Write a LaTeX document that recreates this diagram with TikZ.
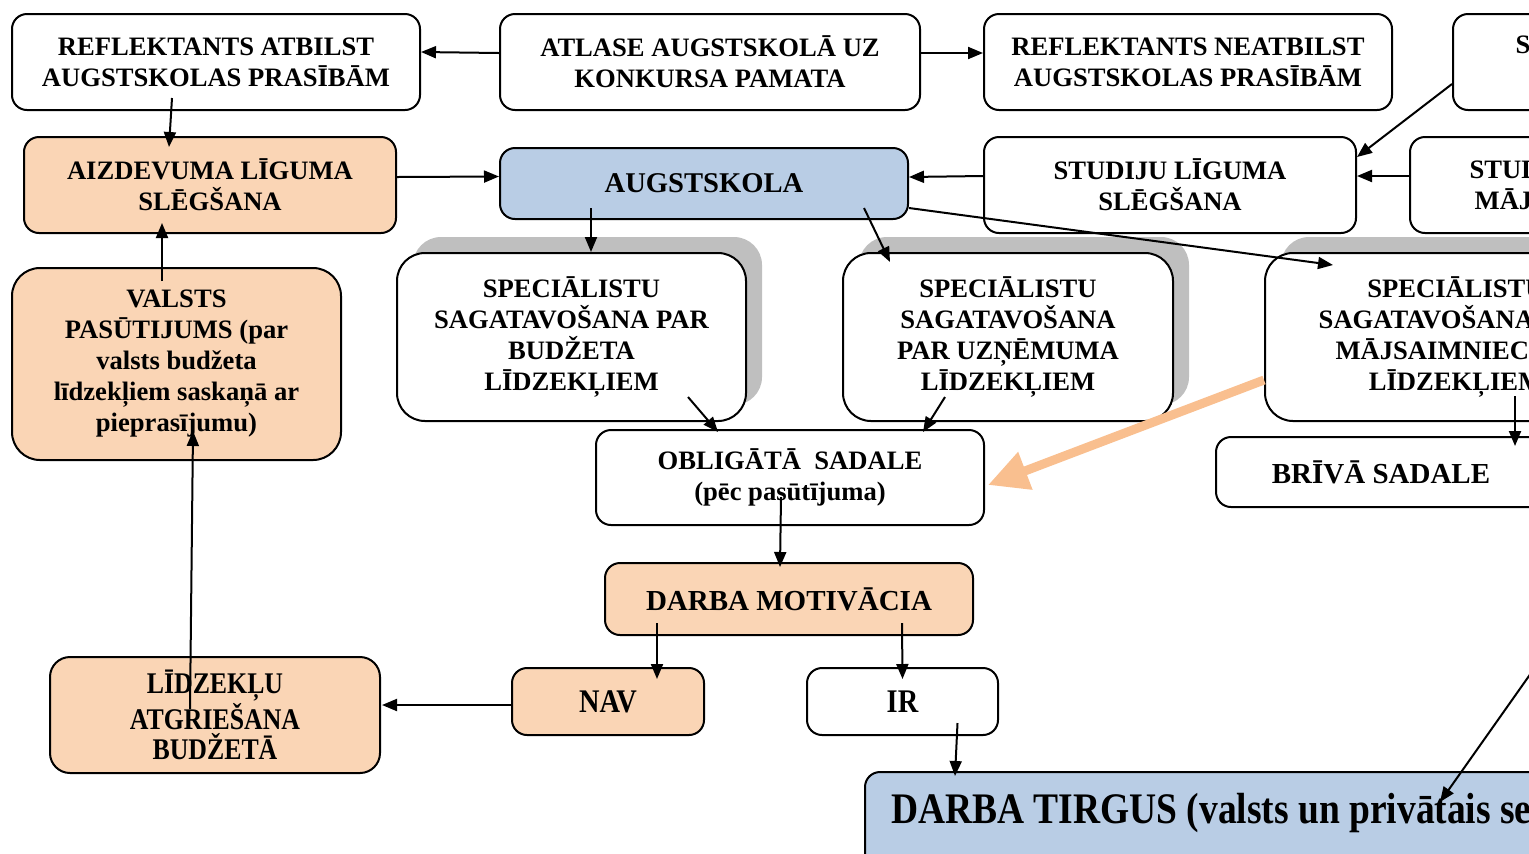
\documentclass[tikz,border=0pt]{standalone}
\usepackage{fontspec}
\setmainfont{Liberation Serif}
\newfontfamily\narrowserif{Liberation Serif}[FakeStretch=0.86]
\usetikzlibrary{calc}
\usetikzlibrary{arrows.meta}
\usetikzlibrary{shadows}
\definecolor{peach}{RGB}{250,213,181}
\definecolor{paleblue}{RGB}{185,205,229}
\definecolor{shadowgray}{RGB}{191,191,191}
\definecolor{arrorange}{RGB}{249,191,143}
\tikzset{
 box/.style={draw, line width=1pt, rounded corners=7.5pt, align=center, inner sep=0pt,
   font=\bfseries\fontsize{13.3}{15.5}\selectfont},
 orangebox/.style={box, fill=peach},
 bluebox/.style={box, fill=paleblue},
 specbox/.style={box, rounded corners=14pt, fill=white,
   general shadow={fill=shadowgray, shadow xshift=8pt, shadow yshift=8pt}},
 narrowtext/.style={font=\narrowserif\bfseries\fontsize{#1}{#1}\selectfont},
 link/.style={line width=1pt, -{Triangle[length=7.5pt,width=6pt]}},
}
\begin{document}
\begin{tikzpicture}[x=0.5pt,y=-0.5pt]
\useasboundingbox (0,0) rectangle (1529,853);
\clip (0,0) rectangle (1529,853);
% top row
\node[box, minimum width=204pt, minimum height=48pt] (refA) at (216,62) {REFLEKTANTS ATBILST\\AUGSTSKOLAS PRASĪBĀM};
\node[box, minimum width=210pt, minimum height=48pt] (atlase) at (710,62) {ATLASE AUGSTSKOLĀ UZ\\KONKURSA PAMATA};
\node[box, minimum width=204pt, minimum height=48pt] (refN) at (1188,62) {REFLEKTANTS NEATBILST\\AUGSTSKOLAS PRASĪBĀM};
\node[box, minimum width=184pt, minimum height=48pt] (topR) at (1637,62) {STUDIJU KREDĪTA\\SAŅEMŠANA};
% second row
\node[orangebox, minimum width=186pt, minimum height=48pt] (aizd) at (210,185) {AIZDEVUMA LĪGUMA\\SLĒGŠANA};
\node[bluebox, minimum width=204pt, minimum height=35.5pt, font=\bfseries\fontsize{14.3}{17}\selectfont] (augst) at (704,183.5) {AUGSTSKOLA};
\node[box, minimum width=186pt, minimum height=48pt] (studL) at (1170,185) {STUDIJU LĪGUMA\\SLĒGŠANA};
\node[box, minimum width=192.5pt, minimum height=48pt] (studM) at (1602.5,185) {STUDIJU MAKSA NO\\MĀJSAIMNIECĪBAS};
% specialists
\node[orangebox, rounded corners=14pt, minimum width=164.5pt, minimum height=96pt] (valsts) at (176.5,364) {VALSTS\\PASŪTIJUMS (par\\valsts budžeta\\līdzekļiem saskaņā ar\\pieprasījumu)};
\node[specbox, minimum width=174.5pt, minimum height=84pt] (spec1) at (571.5,337) {SPECIĀLISTU\\SAGATAVOŠANA PAR\\BUDŽETA\\LĪDZEKĻIEM};
\node[specbox, minimum width=165pt, minimum height=84pt] (spec2) at (1008,337) {SPECIĀLISTU\\SAGATAVOŠANA\\PAR UZŅĒMUMA\\LĪDZEKĻIEM};
\node[specbox, minimum width=191pt, minimum height=84pt] (spec3) at (1456,337) {SPECIĀLISTU\\SAGATAVOŠANA PAR\\MĀJSAIMNIECĪBU\\LĪDZEKĻIEM};
% distribution
\node[box, minimum width=194pt, minimum height=47.5pt] (oblig) at (790,477.5) {OBLIGĀTĀ\ \ SADALE\\(pēc pasūtījuma)};
\node[box, minimum width=165pt, minimum height=35pt, font=\bfseries\fontsize{14.5}{17}\selectfont] (briva) at (1381,472) {BRĪVĀ SADALE};
\node[orangebox, minimum width=184pt, minimum height=36pt, font=\bfseries\fontsize{14.5}{17}\selectfont] (darbaM) at (789,599) {DARBA MOTIVĀCIA};
\node[orangebox, minimum width=96pt, minimum height=33.5pt, narrowtext=16.5] (nav) at (608,701.5) {NAV};
\node[box, minimum width=95.5pt, minimum height=33.5pt, narrowtext=16.5] (ir) at (902.5,701.5) {IR};
\node[orangebox, rounded corners=10pt, minimum width=165pt, minimum height=58pt, narrowtext=15] (lidz) at (215,715) {LĪDZEKĻU\\ATGRIEŠANA\\BUDŽETĀ};
\node[bluebox, anchor=north west, align=left, inner xsep=13pt, inner ysep=5pt,
  text height=20.5pt, text depth=40pt, narrowtext=21.8] (tirgus) at (864,771) {DARBA TIRGUS (valsts un privātais sektors)};
\coordinate (offR) at (1560,632);
% arrows
\draw[link] ($(atlase.west)+(0,-9)$) -- ($(refA.east)+(0,-10)$);
\draw[link] ($(atlase.east)+(0,-9)$) -- ($(refN.west)+(0,-9)$);
\draw[link] ($(refA.south)+(-44,-13)$) -- ($(aizd.north)+(-41,11)$);
\draw[link] ($(aizd.east)+(0,-8)$) -- ($(augst.west)+(0,-7)$);
\draw[link] ($(studL.west)+(0,-9)$) -- ($(augst.east)+(0,-6.5)$);
\draw[link] ($(studM.west)+(0,-9)$) -- ($(studL.east)+(0,-9)$);
\draw[link] ($(topR.west)+(0,22)$) -- ($(studL.north east)+(0,21)$);
\draw[link] ($(valsts.north)+(-14.5,14)$) -- ($(aizd.south)+(-48,-11)$);
\draw[link] ($(lidz.north)+(-25,53)$) -- ($(valsts.south)+(16.5,-30)$);
\draw[link] ($(augst.south)+(-113,-12)$) -- (spec1.north -| 591,0);
\draw[link] ($(augst.south)+(160,-12)$) -- ($(spec2.north)+(-118,10)$);
\draw[link] ($(augst.east)+(0,24.5)$) -- ($(spec3.north west)+(69,13)$);
\draw[link] ($(spec1.south)+(116.5,-25)$) -- ($(oblig.north)+(-72,3)$);
\draw[link] ($(spec2.south)+(-63,-25)$) -- ($(oblig.north)+(133,3)$);
\draw[link] ($(spec3.south)+(59,-26)$) -- ($(briva.north)+(134,10)$);
\draw[arrorange, line width=4.5pt, -{Triangle[length=20pt,width=19pt]}] ($(spec3.west)+(0,43)$) -- ($(oblig.east)+(3,7.5)$);
\draw[link] ($(oblig.south)+(-9,-29)$) -- ($(darbaM.north)+(-9,5)$);
\draw[link] ($(darbaM.south)+(-132,-13)$) -- ($(nav.north)+(49,12)$);
\draw[link] ($(darbaM.south)+(113,-13)$) -- ($(ir.north)+(0,12)$);
\draw[link] ($(nav.west)+(0,3.5)$) -- ($(lidz.east)+(1,-10)$);
\draw[link] ($(ir.south)+(55,-13)$) -- ($(tirgus.north west)+(91,5)$);
\draw[link] (offR) -- ($(tirgus.north west)+(576,31)$);
\end{tikzpicture}
\end{document}
